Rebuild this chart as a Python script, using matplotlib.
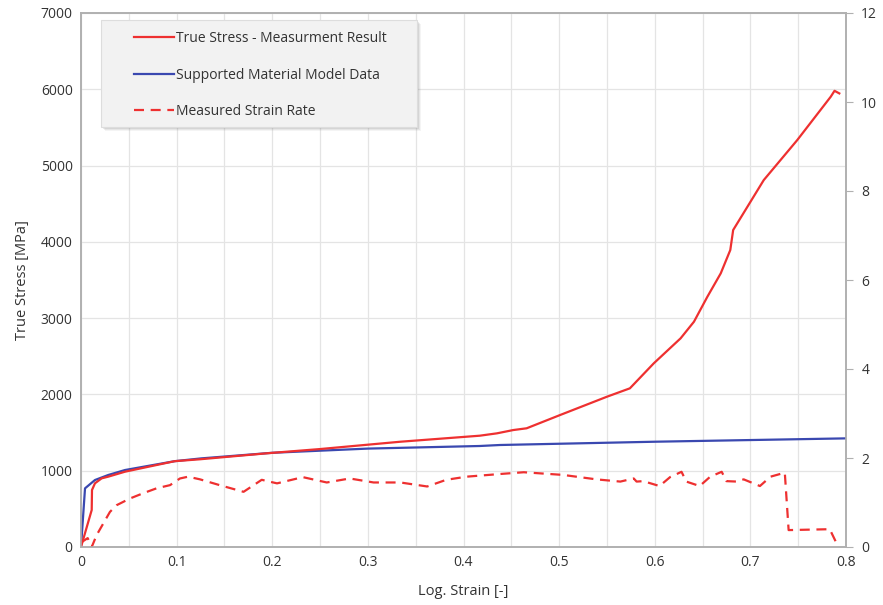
import numpy as np
import matplotlib.pyplot as plt
from matplotlib.ticker import MultipleLocator, FuncFormatter
from matplotlib.patches import Rectangle

plt.rcParams['font.family'] = ['Open Sans', 'DejaVu Sans']

# True stress measurement (red solid)
stress_x = [0.0, 0.0112, 0.0115, 0.0146, 0.0216, 0.0285, 0.046, 0.098, 0.1245,
            0.194, 0.25, 0.334, 0.417, 0.435, 0.452, 0.466, 0.501, 0.55, 0.574,
            0.599, 0.627, 0.641, 0.655, 0.669, 0.679, 0.682, 0.714, 0.749,
            0.784, 0.788, 0.793]
stress_y = [0, 485, 747, 835, 900, 922, 987, 1125, 1150,
            1228, 1284, 1380, 1459, 1490, 1533, 1556, 1730, 1970, 2080,
            2408, 2735, 2953, 3280, 3587, 3893, 4155, 4810, 5334,
            5902, 5980, 5946]

# Supported material model (blue)
model_x = [0.0, 0.0042, 0.0146, 0.0285, 0.046, 0.098, 0.126, 0.2, 0.3, 0.417,
           0.438, 0.6, 0.8]
model_y = [0, 769, 878, 944, 1009, 1125, 1162, 1235, 1290, 1324,
           1337, 1380, 1424]

# Measured strain rate (red dashed, right axis)
rate_x = [0.0, 0.007, 0.0112, 0.0164, 0.0303, 0.0373, 0.0512, 0.0652, 0.0792,
          0.0931, 0.1035, 0.112, 0.1245, 0.145, 0.170, 0.189, 0.205, 0.232,
          0.257, 0.281, 0.306, 0.334, 0.362, 0.382, 0.403, 0.438, 0.463,
          0.504, 0.539, 0.564, 0.578, 0.581, 0.588, 0.605, 0.616, 0.628,
          0.633, 0.647, 0.658, 0.670, 0.675, 0.686, 0.693, 0.710, 0.721,
          0.736, 0.740, 0.783, 0.792]
rate_y = [0.1, 0.2, 0.0, 0.27, 0.79, 0.94, 1.09, 1.21, 1.32,
          1.39, 1.54, 1.58, 1.52, 1.39, 1.24, 1.51, 1.43, 1.57,
          1.45, 1.54, 1.45, 1.45, 1.36, 1.51, 1.58, 1.64, 1.68,
          1.62, 1.52, 1.47, 1.54, 1.47, 1.48, 1.37, 1.57, 1.69,
          1.47, 1.37, 1.58, 1.69, 1.48, 1.47, 1.52, 1.37, 1.58,
          1.67, 0.38, 0.40, 0.0]

red = '#ee3030'
blue = '#3a48b0'
grid_c = '#e4e4e4'
spine_c = '#b0b0b0'
text_c = '#333333'

fig = plt.figure(figsize=(8.83, 6.05), dpi=100)
ax = fig.add_axes([81 / 883, 58 / 605, 765 / 883, 534 / 605])
ax2 = ax.twinx()

l1, = ax.plot(stress_x, stress_y, color=red, lw=1.6, label='True Stress - Measurment Result', zorder=4)
l2, = ax.plot(model_x, model_y, color=blue, lw=1.6, label='Supported Material Model Data', zorder=3)
l3, = ax2.plot(rate_x, rate_y, color=red, lw=1.6, ls=(0, (4.5, 3)), label='Measured Strain Rate')

ax.set_xlim(0, 0.8)
ax.set_ylim(0, 7000)
ax2.set_ylim(0, 12)
ax.xaxis.set_major_locator(MultipleLocator(0.1))
ax.xaxis.set_minor_locator(MultipleLocator(0.05))
ax.yaxis.set_major_locator(MultipleLocator(1000))
ax2.yaxis.set_major_locator(MultipleLocator(2))
ax.xaxis.set_major_formatter(FuncFormatter(lambda v, p: '0' if abs(v) < 1e-9 else f'{v:.1f}'))

ax.grid(True, which='both', axis='x', color=grid_c, lw=0.9)
ax.grid(True, which='major', axis='y', color=grid_c, lw=0.9)
ax.set_axisbelow(True)

for a in (ax, ax2):
    for s in a.spines.values():
        s.set_color(spine_c)
        s.set_linewidth(1.2)
ax.tick_params(axis='both', which='both', length=0, labelsize=10, labelcolor=text_c, pad=6)
ax2.tick_params(axis='y', length=5, color=spine_c, labelsize=10, labelcolor=text_c, pad=6)

ax.set_xlabel('Log. Strain [-]', fontsize=10.5, color=text_c, labelpad=10)
ax.set_ylabel('True Stress [MPa]', fontsize=10.5, color=text_c, labelpad=8)

# legend box with soft shadow
x0, y0 = 20 / 765, 420 / 534
w, h = 316 / 765, 107 / 534
for i, al in enumerate([0.08, 0.11, 0.15]):
    off = (4 - i) / 765
    ax2.add_patch(Rectangle((x0 + off, y0 - off * 765 / 534), w, h, transform=ax.transAxes,
                            facecolor='#777777', edgecolor='none', alpha=al, zorder=8))
ax2.add_patch(Rectangle((x0, y0), w, h, transform=ax.transAxes, facecolor='#f2f2f2',
                        edgecolor='#dddddd', lw=0.8, zorder=9))
leg = ax2.legend(handles=[l1, l2, l3], loc='upper left', bbox_to_anchor=(53 / 765, 516 / 534),
                 fontsize=10, frameon=False, handlelength=2.9, handletextpad=0.15,
                 labelspacing=1.55, borderpad=0, borderaxespad=0)
for t in leg.get_texts():
    t.set_color(text_c)
leg.set_zorder(10)

fig.savefig('out.png', dpi=100)
